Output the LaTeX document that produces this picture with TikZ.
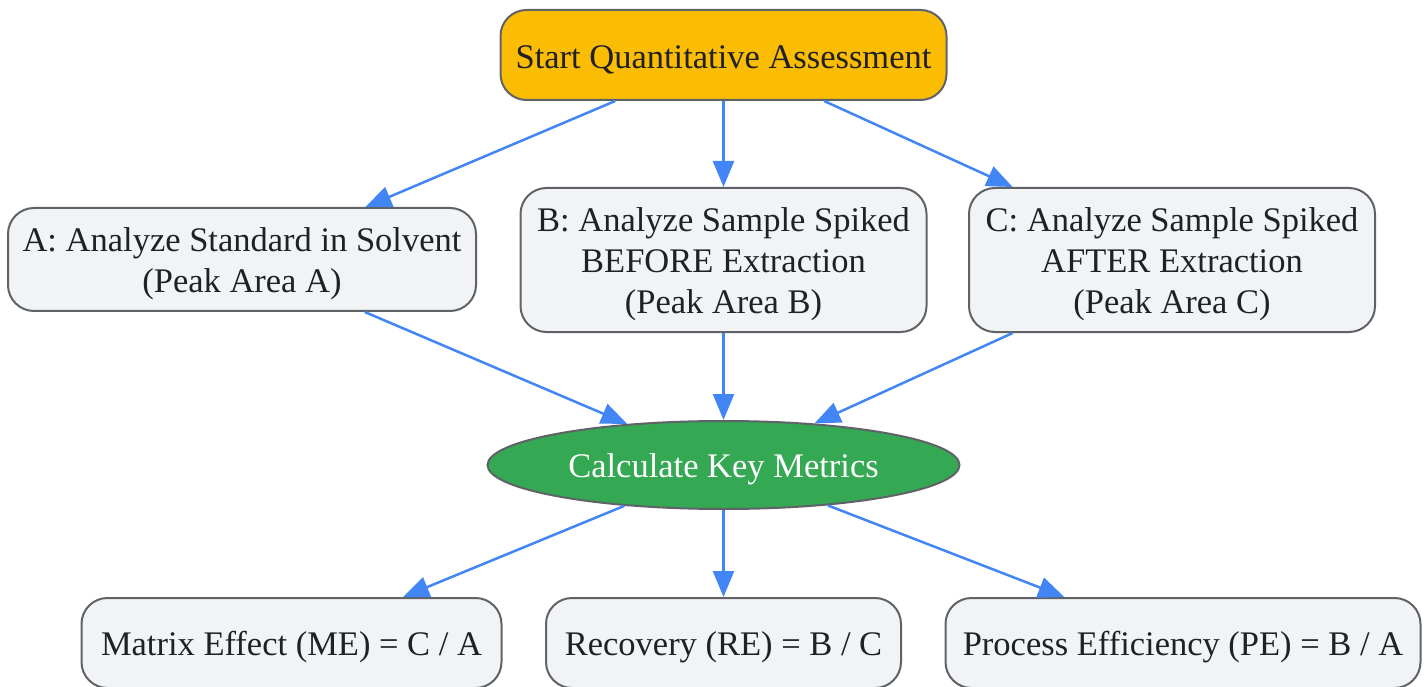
\documentclass[tikz,border=0pt]{standalone}
\usepackage{fontspec}
\setmainfont{Liberation Serif}
\usetikzlibrary{arrows.meta,shapes.geometric}
\definecolor{txt}{HTML}{202124}
\definecolor{bord}{HTML}{5F6368}
\definecolor{boxfill}{HTML}{F1F3F4}
\definecolor{startfill}{HTML}{FBBC04}
\definecolor{greenfill}{HTML}{34A853}
\definecolor{arrowblue}{HTML}{4285F4}
\tikzset{
  base/.style={draw=bord, line width=2pt, inner sep=0pt},
  rbox/.style={base, rectangle, rounded corners=26pt, fill=boxfill},
  startbox/.style={rbox, fill=startfill},
  calc/.style={base, ellipse, fill=greenfill},
  lbl/.style={text=txt, align=center, inner sep=0pt, yshift=-4.5pt,
    font=\fontsize{34.5}{41}\selectfont},
  wlbl/.style={lbl, text=white},
  conn/.style={draw=arrowblue, line width=2.5pt, -{Triangle[length=26pt,width=21pt]}}
}
\begin{document}
\begin{tikzpicture}[x=1pt,y=-1pt]
\useasboundingbox (0,0) rectangle (1428,687);
\node[startbox, minimum width=446pt, minimum height=90pt] (start) at (723.5,55) {};
\node[rbox, minimum width=468pt, minimum height=103pt] (A) at (242,259.5) {};
\node[rbox, minimum width=406pt, minimum height=144pt] (B) at (723.5,260) {};
\node[rbox, minimum width=406pt, minimum height=144pt] (C) at (1172,260) {};
\node[calc, minimum width=472pt, minimum height=88pt] (K) at (723.5,465) {};
\node[rbox, minimum width=420pt, minimum height=90pt] (ME) at (291.5,643) {};
\node[rbox, minimum width=355pt, minimum height=90pt] (RE) at (723.5,643) {};
\node[rbox, minimum width=475pt, minimum height=90pt] (PE) at (1183,643) {};
\node[lbl] (startT) at (start.center) {Start Quantitative Assessment};
\node[lbl] (AT) at (A.center) {A: Analyze Standard in Solvent\\(Peak Area A)};
\node[lbl] (BT) at (B.center) {B: Analyze Sample Spiked\\BEFORE Extraction\\(Peak Area B)};
\node[lbl] (CT) at (C.center) {C: Analyze Sample Spiked\\AFTER Extraction\\(Peak Area C)};
\node[wlbl] (KT) at (K.center) {Calculate Key Metrics};
\node[lbl] (MET) at (ME.center) {Matrix Effect (ME) = C / A};
\node[lbl] (RET) at (RE.center) {Recovery (RE) = B / C};
\node[lbl] (PET) at (PE.center) {Process Efficiency (PE) = B / A};
\draw[conn] (start) -- (A);
\draw[conn] (start) -- (B);
\draw[conn] (start) -- (C);
\draw[conn] (A) -- (K);
\draw[conn] (B) -- (K);
\draw[conn] (C) -- (K);
\draw[conn] (K) -- (ME);
\draw[conn] (K) -- (RE);
\draw[conn] (K) -- (PE);
\end{tikzpicture}
\end{document}
